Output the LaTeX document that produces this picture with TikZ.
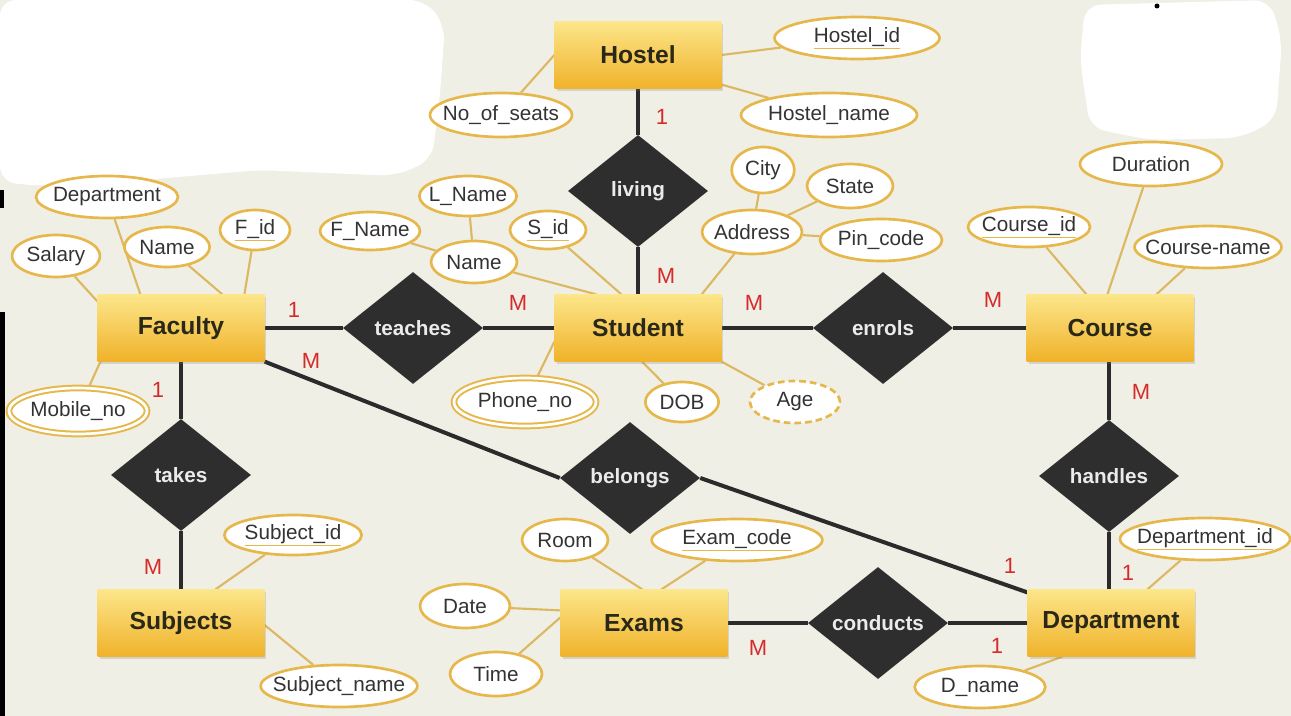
\documentclass[tikz,border=0pt]{standalone}
\usepackage{fontspec}
\setmainfont{Liberation Sans}
\usetikzlibrary{shapes.geometric,shadows,calc}
\pgfdeclarelayer{back}
\pgfdeclarelayer{bg}
\pgfsetlayers{back,bg,main}
\definecolor{bgc}{HTML}{EFEFE6}
\definecolor{attrc}{HTML}{E6B84C}
\definecolor{linec}{HTML}{DDB862}
\definecolor{relc}{HTML}{2B2B2B}
\definecolor{diac}{HTML}{2E2E2E}
\definecolor{cardc}{HTML}{D62B2B}
\definecolor{txtc}{HTML}{333333}
\definecolor{etxt}{HTML}{2A2818}
\definecolor{etop}{HTML}{FCE68A}
\definecolor{emid}{HTML}{F9D24A}
\definecolor{ebot}{HTML}{F0B22A}
\newcommand\attrfont{\fontsize{15.5}{18}\selectfont}
\newcommand\entfont{\fontsize{18.5}{22}\selectfont\bfseries}
\newcommand\relfont{\fontsize{15.5}{18}\selectfont\bfseries}
\newcommand\cardfont{\fontsize{16.5}{19}\selectfont}
\newcommand\keyul[1]{{\color{attrc}\underline{\textcolor{txtc}{#1}}}}
\begin{document}
\begin{tikzpicture}[x=0.75pt,y=-0.75pt,
  ent/.style={rectangle, minimum width=125pt, minimum height=50pt, top color=etop, middle color=emid, bottom color=ebot, draw=none, font=\entfont, text=etxt, drop shadow={shadow xshift=1.5pt, shadow yshift=-2pt, opacity=0.25}},
  rel/.style={diamond, fill=diac, inner sep=0pt, minimum width=105pt, minimum height=84pt, font=\relfont, text=white!92!black},
  attr/.style={ellipse, draw=attrc, line width=2pt, fill=white, inner xsep=-8pt, inner ysep=0pt, font=\attrfont, text=txtc},
  multi/.style={attr, line width=1.5pt, double=white, double distance=2pt},
  derived/.style={attr, dash pattern=on 5pt off 3pt},
  card/.style={font=\cardfont, text=cardc, inner sep=0pt},
  relline/.style={draw=relc, line width=3pt},
  attline/.style={draw=linec, line width=1.6pt}
]
\useasboundingbox (0,0) rectangle (1291,716);
\begin{pgfonlayer}{back}
\fill[bgc] (0,0) rectangle (1291,716);
\fill[white, rounded corners=12pt] (0,0) -- (425,0) -- (445,25) -- (440,95) -- (432,160) -- (395,176) -- (260,170) -- (120,182) -- (40,186) -- (0,182) -- cycle;
\fill[white, rounded corners=12pt] (1085,5) -- (1270,0) -- (1282,40) -- (1276,120) -- (1240,138) -- (1150,140) -- (1090,128) -- (1080,60) -- cycle;
\fill[black] (0,312) rectangle (5,716);
\fill[black] (0,190) rectangle (4,208);
\fill[black] (1157,6) circle (2.5);
\end{pgfonlayer}

% entities
\node[ent] (h) at (638,55) {Hostel};
\node[ent] (f) at (181,328) {Faculty};
\node[ent] (s) at (638,328) {Student};
\node[ent] (c) at (1110,328) {Course};
\node[ent] (sb) at (181,623) {Subjects};
\node[ent] (e) at (644,623) {Exams};
\node[ent] (d) at (1111,623) {Department};

% relationships
\node[rel] (living) at (638,191) {living};
\node[rel] (teaches) at (413,328) {teaches};
\node[rel] (enrols) at (883,328) {enrols};
\node[rel] (takes) at (181,475) {takes};
\node[rel] (belongs) at (630,478) {belongs};
\node[rel] (handles) at (1109,476) {handles};
\node[rel] (conducts) at (878,623) {conducts};

% attributes
\node[attr, minimum width=123.75pt, minimum height=31.5pt] (hid) at (857,38) {\keyul{Hostel\_id}};
\node[attr, minimum width=132pt, minimum height=33pt] (hnm) at (829,115) {Hostel\_name};
\node[attr, minimum width=106.5pt, minimum height=33pt] (nos) at (501,115) {No\_of\_seats};
\node[attr, minimum width=47pt, minimum height=34.5pt] (city) at (763,170) {City};
\node[attr, minimum width=64.5pt, minimum height=33pt] (state) at (850,186) {State};
\node[attr, minimum width=75pt, minimum height=33pt] (addr) at (752,232) {Address};
\node[attr, minimum width=91.5pt, minimum height=31.5pt] (pin) at (881,240) {Pin\_code};
\node[attr, minimum width=73pt, minimum height=30pt] (lnm) at (468,196) {L\_Name};
\node[attr, minimum width=75pt, minimum height=28.5pt] (fnm) at (370,231) {F\_Name};
\node[attr, minimum width=57pt, minimum height=28.5pt] (sid) at (548,230) {\keyul{S\_id}};
\node[attr, minimum width=64.5pt, minimum height=31.5pt] (snm) at (474,262) {Name};
\node[multi, minimum width=106.5pt, minimum height=36pt] (phone) at (525,402) {Phone\_no};
\node[attr, minimum width=55pt, minimum height=30pt] (dob) at (682,402) {DOB};
\node[derived, minimum width=67.5pt, minimum height=31.5pt] (age) at (795,402) {Age};
\node[attr, minimum width=106.5pt, minimum height=31.5pt] (fdept) at (107,197) {Department};
\node[attr, minimum width=64pt, minimum height=30pt] (fnm2) at (167,247) {Name};
\node[attr, minimum width=52.5pt, minimum height=30pt] (fid) at (255,230) {\keyul{F\_id}};
\node[attr, minimum width=66pt, minimum height=31.5pt] (sal) at (56,256) {Salary};
\node[multi, minimum width=103.5pt, minimum height=34.5pt] (mob) at (78,411) {Mobile\_no};
\node[attr, minimum width=106.5pt, minimum height=33pt] (dur) at (1151,164) {Duration};
\node[attr, minimum width=91.5pt, minimum height=30pt] (cid) at (1029,227) {\keyul{Course\_id}};
\node[attr, minimum width=107pt, minimum height=31.5pt] (cnm) at (1208,247) {Course-name};
\node[attr, minimum width=103pt, minimum height=30pt] (subid) at (293,535) {\keyul{Subject\_id}};
\node[attr, minimum width=106.5pt, minimum height=31.5pt] (subnm) at (339,686) {Subject\_name};
\node[attr, minimum width=64.5pt, minimum height=31.5pt] (room) at (565,540) {Room};
\node[attr, minimum width=128pt, minimum height=31.5pt] (ecode) at (737,540) {\keyul{Exam\_code}};
\node[attr, minimum width=67.5pt, minimum height=33pt] (date) at (465,606) {Date};
\node[attr, minimum width=69pt, minimum height=33pt] (time) at (496,674) {Time};
\node[attr, minimum width=127.5pt, minimum height=31.5pt] (did) at (1205,539) {\keyul{Department\_id}};
\node[attr, minimum width=98pt, minimum height=31.5pt] (dnm) at (980,687) {D\_name};

% cardinalities
\node[card] (k1) at (662,117) {1};
\node[card] (k2) at (666,276) {M};
\node[card] (k3) at (294,310) {1};
\node[card] (k4) at (518,303) {M};
\node[card] (k5) at (311,361) {M};
\node[card] (k6) at (754,303) {M};
\node[card] (k7) at (993,300) {M};
\node[card] (k8) at (158,390) {1};
\node[card] (k9) at (153,567) {M};
\node[card] (k10) at (1141,392) {M};
\node[card] (k11) at (1128,573) {1};
\node[card] (k12) at (1010,566) {1};
\node[card] (k13) at (758,648) {M};
\node[card] (k14) at (997,646) {1};

\begin{pgfonlayer}{bg}
% relationship connectors
\draw[relline] (h.south) -- (living.north);
\draw[relline] (living.south) -- (s.north);
\draw[relline] (f.east) -- (teaches.west);
\draw[relline] (teaches.east) -- (s.west);
\draw[relline] (s.east) -- (enrols.west);
\draw[relline] (enrols.east) -- (c.west);
\draw[relline] (f.south) -- (takes.north);
\draw[relline] (takes.south) -- (sb.north);
\draw[relline] (f.south east) -- (belongs.west);
\draw[relline] (belongs.east) -- ($(d.north west)+(0,3)$);
\draw[relline] (handles.north |- c.south) -- (handles.north);
\draw[relline] (handles.south) -- (handles.south |- d.north);
\draw[relline] (e.east) -- (conducts.west);
\draw[relline] (conducts.east) -- (d.west);
% attribute connectors
\draw[attline] (hid) -- (h.east);
\draw[attline] (hnm) -- ($(h.south east)+(0,-4)$);
\draw[attline] (nos) -- (h.west);
\draw[attline] (sid) -- ($(s.north west)+(67,0)$);
\draw[attline] (snm) -- ($(s.north west)+(42,0)$);
\draw[attline] (fnm) -- (snm);
\draw[attline] (lnm) -- (snm);
\draw[attline] (addr) -- ($(s.north east)+(-20,0)$);
\draw[attline] (city) -- (addr);
\draw[attline] (state) -- (addr);
\draw[attline] (pin) -- (addr);
\draw[attline] (phone) -- ($(s.south west)+(0,-20)$);
\draw[attline] (dob) -- ($(s.south)+(4,0)$);
\draw[attline] (age) -- (s.south east);
\draw[attline] (fdept) -- ($(f.north west)+(43,0)$);
\draw[attline] (fnm2) -- ($(f.north west)+(125,0)$);
\draw[attline] (fid) -- ($(f.north west)+(147,0)$);
\draw[attline] (sal) -- ($(f.north west)+(0,7)$);
\draw[attline] (mob) -- ($(f.south west)+(3,0)$);
\draw[attline] (cid) -- ($(c.north west)+(60,0)$);
\draw[attline] (dur) -- ($(c.north west)+(81,0)$);
\draw[attline] (cnm) -- ($(c.north west)+(130,0)$);
\draw[attline] (subid) -- ($(sb.north west)+(118,0)$);
\draw[attline] (subnm) -- ($(sb.east)+(0,2)$);
\draw[attline] (room) -- ($(e.north west)+(82,0)$);
\draw[attline] (ecode) -- ($(e.north west)+(101,0)$);
\draw[attline] (date) -- ($(e.north west)+(0,21)$);
\draw[attline] (time) -- ($(e.north west)+(0,28)$);
\draw[attline] (did) -- ($(d.north west)+(120,0)$);
\draw[attline] (dnm) -- ($(d.south west)+(35,0)$);
\end{pgfonlayer}
\end{tikzpicture}
\end{document}
